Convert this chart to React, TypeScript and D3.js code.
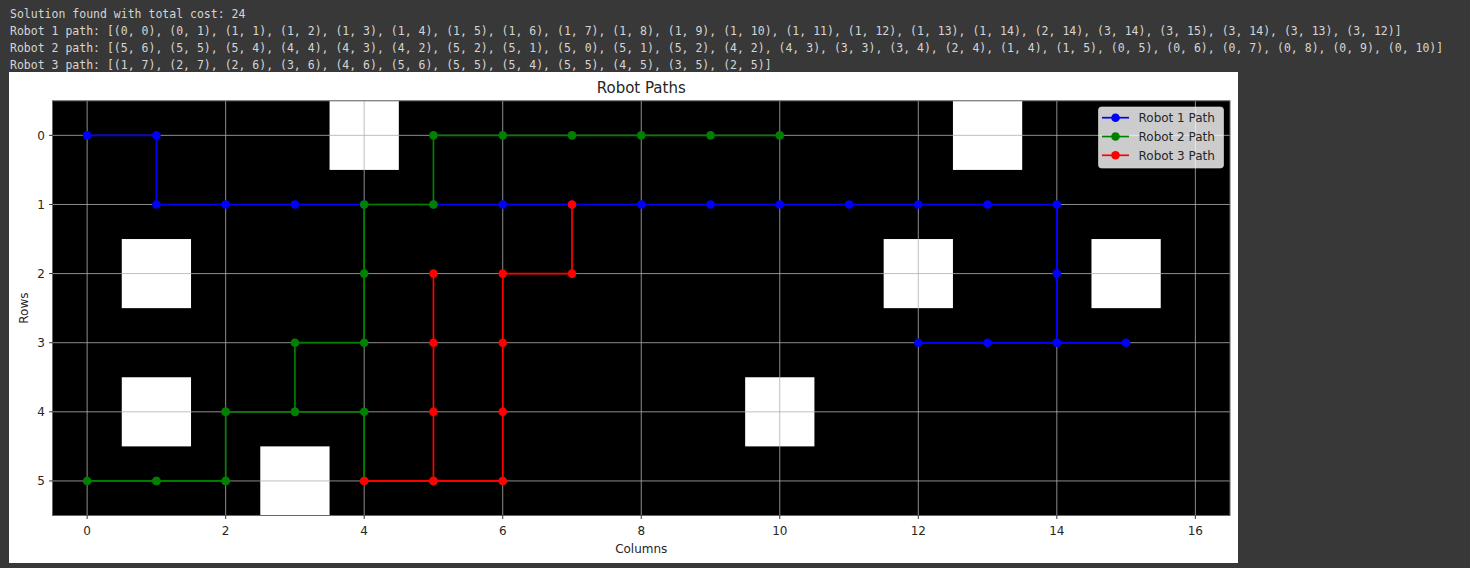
import React from "react";
import * as d3 from "d3";

// output lines printed above the figure
const headerLines = [
  "Solution found with total cost: 24",
  "Robot 1 path: [(0, 0), (0, 1), (1, 1), (1, 2), (1, 3), (1, 4), (1, 5), (1, 6), (1, 7), (1, 8), (1, 9), (1, 10), (1, 11), (1, 12), (1, 13), (1, 14), (2, 14), (3, 14), (3, 15), (3, 14), (3, 13), (3, 12)]",
  "Robot 2 path: [(5, 6), (5, 5), (5, 4), (4, 4), (4, 3), (4, 2), (5, 2), (5, 1), (5, 0), (5, 1), (5, 2), (4, 2), (4, 3), (3, 3), (3, 4), (2, 4), (1, 4), (1, 5), (0, 5), (0, 6), (0, 7), (0, 8), (0, 9), (0, 10)]",
  "Robot 3 path: [(1, 7), (2, 7), (2, 6), (3, 6), (4, 6), (5, 6), (5, 5), (5, 4), (5, 5), (4, 5), (3, 5), (2, 5)]",
];

// [row, col]
const robot1Path: [number, number][] = [
  [0, 0], [0, 1], [1, 1], [1, 2], [1, 3], [1, 4], [1, 5], [1, 6], [1, 7], [1, 8], [1, 9],
  [1, 10], [1, 11], [1, 12], [1, 13], [1, 14], [2, 14], [3, 14], [3, 15], [3, 14], [3, 13], [3, 12],
];
const robot2Path: [number, number][] = [
  [5, 6], [5, 5], [5, 4], [4, 4], [4, 3], [4, 2], [5, 2], [5, 1], [5, 0], [5, 1], [5, 2], [4, 2],
  [4, 3], [3, 3], [3, 4], [2, 4], [1, 4], [1, 5], [0, 5], [0, 6], [0, 7], [0, 8], [0, 9], [0, 10],
];
const robot3Path: [number, number][] = [
  [1, 7], [2, 7], [2, 6], [3, 6], [4, 6], [5, 6], [5, 5], [5, 4], [5, 5], [4, 5], [3, 5], [2, 5],
];

const robotNames = ["Robot 1 Path", "Robot 2 Path", "Robot 3 Path"];
const robotColors = ["#0000ff", "#008000", "#ff0000"];

// cells shown white, [row, col]
const obstacles: [number, number][] = [
  [0, 4], [0, 13], [2, 1], [2, 12], [2, 15], [4, 1], [4, 10], [5, 3],
];

const xTicks = [0, 2, 4, 6, 8, 10, 12, 14, 16];
const yTicks = [0, 1, 2, 3, 4, 5];

export default function App() {
  const W = 1470;
  const H = 568;
  const left = 52.5;
  const right = 1230;
  const top = 100.8;
  const bottom = 515.5;

  const x = d3.scaleLinear().domain([-0.5, 16.5]).range([left, right]);
  const y = d3.scaleLinear().domain([-0.5, 5.5]).range([top, bottom]);

  const line = d3
    .line<[number, number]>()
    .x((d) => x(d[1]))
    .y((d) => y(d[0]));

  const paths = [robot1Path, robot2Path, robot3Path];
  const sans = "DejaVu Sans, sans-serif";
  const textCol = "#262626";

  return (
    <div style={{ position: "fixed", left: 0, top: 0, width: W, height: H, background: "#383838" }}>
      <svg width={W} height={H} style={{ display: "block" }}>
        <rect width={W} height={H} fill="#383838" />
        {headerLines.map((t, i) => (
          <text
            key={i}
            x={10}
            y={18 + i * 17}
            fill="#d5d5d5"
            fontFamily="DejaVu Sans Mono, monospace"
            fontSize={11.5}
            style={{ whiteSpace: "pre" }}
          >
            {t}
          </text>
        ))}

        {/* figure */}
        <rect x={9} y={72} width={1229} height={491} fill="#ffffff" />

        <text x={(left + right) / 2} y={93} textAnchor="middle" fontFamily={sans} fontSize={15} fill={textCol}>
          Robot Paths
        </text>

        {/* image */}
        <rect x={left} y={top} width={right - left} height={bottom - top} fill="#000000" />
        {obstacles.map(([r, c], i) => (
          <rect
            key={i}
            x={x(c - 0.5)}
            y={y(r - 0.5)}
            width={x(c + 0.5) - x(c - 0.5)}
            height={y(r + 0.5) - y(r - 0.5)}
            fill="#ffffff"
          />
        ))}

        {/* grid */}
        <g stroke="#b0b0b0" strokeWidth={0.8}>
          {xTicks.map((t) => (
            <line key={"gx" + t} x1={x(t)} x2={x(t)} y1={top} y2={bottom} />
          ))}
          {yTicks.map((t) => (
            <line key={"gy" + t} x1={left} x2={right} y1={y(t)} y2={y(t)} />
          ))}
        </g>

        {/* robot paths */}
        {paths.map((p, i) => (
          <g key={i}>
            <path d={line(p) ?? ""} fill="none" stroke={robotColors[i]} strokeWidth={1.7} />
            {p.map((d, j) => (
              <circle key={j} cx={x(d[1])} cy={y(d[0])} r={4.3} fill={robotColors[i]} />
            ))}
          </g>
        ))}

        {/* frame */}
        <rect x={left} y={top} width={right - left} height={bottom - top} fill="none" stroke="#666" strokeWidth={1} />

        {/* x axis */}
        {xTicks.map((t) => (
          <g key={"xt" + t}>
            <line x1={x(t)} x2={x(t)} y1={bottom} y2={bottom + 3.5} stroke="#000" strokeWidth={0.8} />
            <text x={x(t)} y={534.5} textAnchor="middle" fontFamily={sans} fontSize={12} fill={textCol}>
              {t}
            </text>
          </g>
        ))}
        <text x={(left + right) / 2} y={552.5} textAnchor="middle" fontFamily={sans} fontSize={12} fill={textCol}>
          Columns
        </text>

        {/* y axis */}
        {yTicks.map((t) => (
          <g key={"yt" + t}>
            <line x1={left - 3.5} x2={left} y1={y(t)} y2={y(t)} stroke="#000" strokeWidth={0.8} />
            <text x={45} y={y(t) + 4.3} textAnchor="end" fontFamily={sans} fontSize={12} fill={textCol}>
              {t}
            </text>
          </g>
        ))}
        <text
          transform={`translate(27.5,${(top + bottom) / 2}) rotate(-90)`}
          textAnchor="middle"
          fontFamily={sans}
          fontSize={12}
          fill={textCol}
        >
          Rows
        </text>

        {/* legend */}
        <rect
          x={1098.5}
          y={107}
          width={125}
          height={61}
          rx={3}
          fill="#ffffff"
          fillOpacity={0.8}
          stroke="#d8d8d8"
          strokeOpacity={0.8}
          strokeWidth={0.8}
        />
        {robotNames.map((n, i) => {
          const ly = 117.7 + i * 18.8;
          return (
            <g key={n}>
              <line x1={1102} x2={1129} y1={ly} y2={ly} stroke={robotColors[i]} strokeWidth={1.7} />
              <circle cx={1115.5} cy={ly} r={4.3} fill={robotColors[i]} />
              <text x={1138.5} y={ly + 4.3} fontFamily={sans} fontSize={12} fill={textCol}>
                {n}
              </text>
            </g>
          );
        })}
      </svg>
    </div>
  );
}
